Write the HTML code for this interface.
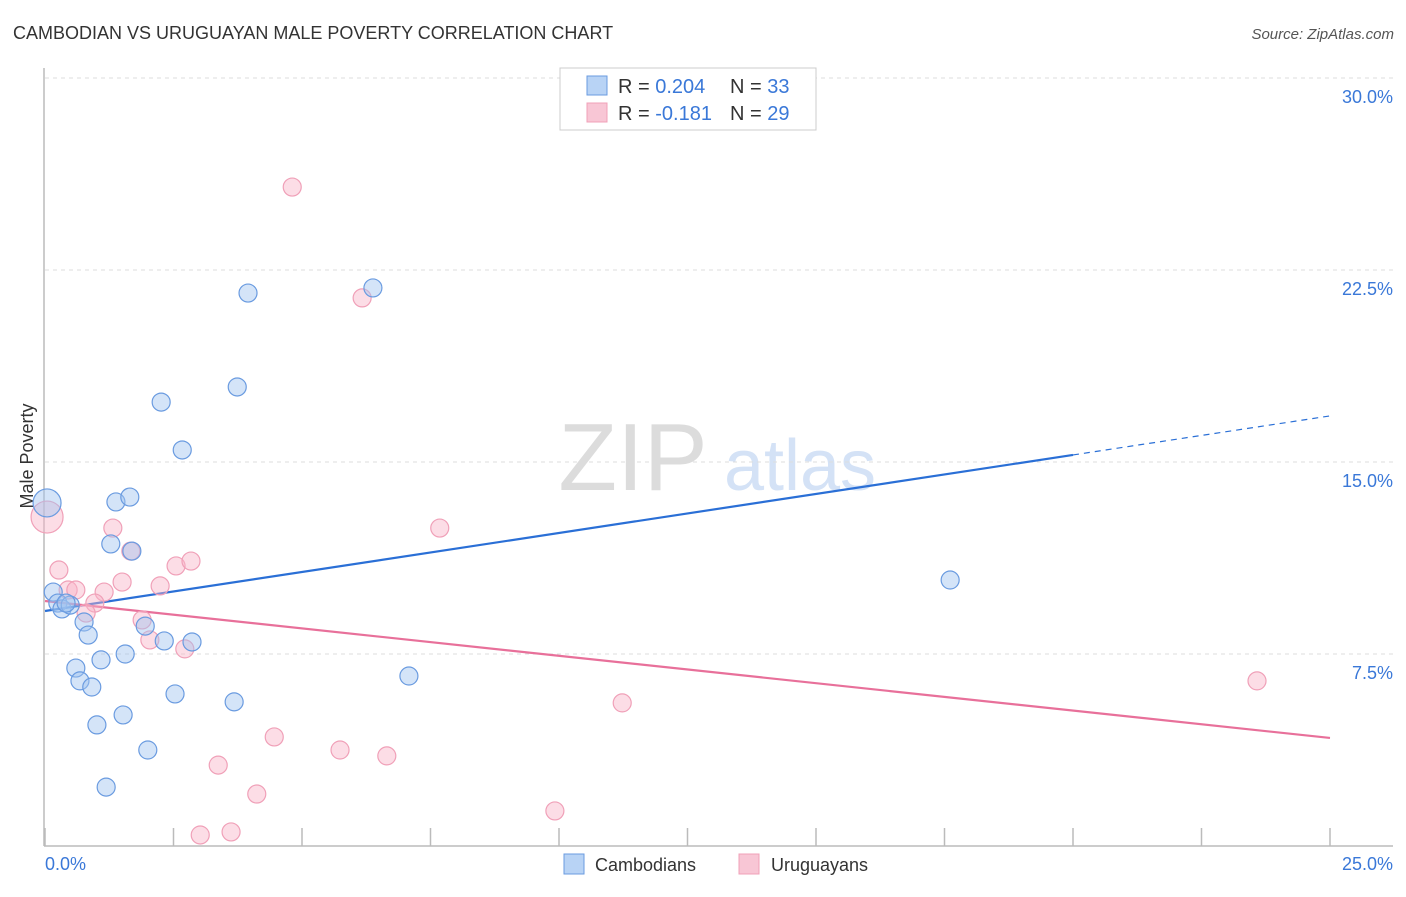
<!DOCTYPE html>
<html><head><meta charset="utf-8"><style>
body{margin:0;background:#fff;font-family:"Liberation Sans",sans-serif;}
svg text{font-family:"Liberation Sans",sans-serif;}
</style></head><body>
<svg id="chart" width="1406" height="892" viewBox="0 0 1406 892" xmlns="http://www.w3.org/2000/svg">
<text x="13" y="39" font-size="18" fill="#333">CAMBODIAN VS URUGUAYAN MALE POVERTY CORRELATION CHART</text>
<text x="1394" y="39" font-size="15" font-style="italic" fill="#555" text-anchor="end">Source: ZipAtlas.com</text>
<g>
<text x="633" y="490" font-size="96" font-family="Liberation Serif,serif" fill="#dcdcdc" text-anchor="middle">ZIP</text>
<text x="800" y="490" font-size="72" fill="#d4e2f6" text-anchor="middle">atlas</text>
</g>
<g id="grid"></g>
<line x1="44" y1="68" x2="44" y2="846" stroke="#bbb" stroke-width="1.5"/>
<line x1="44" y1="846" x2="1393" y2="846" stroke="#bbb" stroke-width="1.5"/>
<g id="ticks"></g>
<text transform="translate(33,456) rotate(-90)" font-size="18" fill="#333" text-anchor="middle">Male Poverty</text>
<text x="45" y="870" font-size="18" fill="#3a78d8">0.0%</text>
<text x="1393" y="870" font-size="18" fill="#3a78d8" text-anchor="end">25.0%</text>
<g id="trends"></g>
<g id="points"></g>
<g>
<rect x="560" y="68" width="256" height="62" fill="#fff" stroke="#ccc"/>
<rect x="587" y="76" width="20" height="19" fill="#b8d3f5" stroke="#6a9be0"/>
<rect x="587" y="103" width="20" height="19" fill="#f8c6d5" stroke="#f0a0b8"/>
<text x="618" y="93" font-size="20" fill="#333">R = <tspan fill="#3a78d8">0.204</tspan><tspan x="730">N = </tspan><tspan fill="#3a78d8">33</tspan></text>
<text x="618" y="120" font-size="20" fill="#333">R = <tspan fill="#3a78d8">-0.181</tspan><tspan x="730">N = </tspan><tspan fill="#3a78d8">29</tspan></text>
</g>
<g>
<rect x="564" y="854" width="20" height="20" fill="#b8d3f5" stroke="#6a9be0"/>
<text x="595" y="871" font-size="18" fill="#333">Cambodians</text>
<rect x="739" y="854" width="20" height="20" fill="#f8c6d5" stroke="#f0a0b8"/>
<text x="771" y="871" font-size="18" fill="#333">Uruguayans</text>
</g>
</svg>
<script>
const yTicks=[7.5,15,22.5,30];
const yTickLabels=["7.5%","15.0%","22.5%","30.0%"];
const xTicks=[0,2.5,5,7.5,10,12.5,15,17.5,20,22.5,25];
const camX=[0.04,1.38,1.65,1.28,1.69,0.16,0.25,0.33,0.49,0.41,0.76,0.84,1.95,2.32,2.86,0.60,0.68,1.09,1.56,0.91,2.53,3.68,1.52,1.01,2.00,1.19,2.26,2.67,3.74,3.95,6.38,7.08,17.61];
const camY=[13.40,13.44,13.63,11.80,11.52,9.92,9.49,9.26,9.41,9.49,8.75,8.24,8.59,8.01,7.97,6.95,6.45,7.27,7.50,6.21,5.94,5.63,5.12,4.73,3.75,2.30,17.34,15.47,17.93,21.60,21.80,6.64,10.39];
const uruX=[0.04,0.27,1.32,1.67,0.45,0.60,1.15,1.50,2.24,2.55,2.84,0.97,0.80,1.89,2.04,2.72,4.81,6.17,7.68,4.46,3.37,5.74,6.65,4.12,3.02,3.62,9.92,11.23,23.58];
const uruY=[12.85,10.78,12.42,11.52,10.00,10.00,9.92,10.31,10.16,10.94,11.13,9.49,9.10,8.83,8.05,7.70,25.74,21.41,12.42,4.26,3.16,3.75,3.52,2.03,0.43,0.55,1.37,5.59,6.45];
const camTrend=[9.18,16.80];
const uruTrend=[9.57,4.22];
const NS="http://www.w3.org/2000/svg";
const X=v=>45+v*51.4;
const Y=v=>846-v*25.6;
function mk(tag,attrs,parent){const e=document.createElementNS(NS,tag);for(const k in attrs)e.setAttribute(k,attrs[k]);document.getElementById(parent).appendChild(e);return e;}
yTicks.forEach((t,i)=>{
 const l=mk('line',{x1:45,x2:1393,y1:Y(t),y2:Y(t),stroke:'#ddd','stroke-dasharray':'4,4'},'grid');
 
 
 const tx=mk('text',{x:1393,y:Y(t)+25,'font-size':18,fill:'#3a78d8','text-anchor':'end'},'grid');
 tx.textContent=yTickLabels[i];
 
 
});
xTicks.forEach(t=>{
 const l=mk('line',{x1:X(t),x2:X(t),y1:828,y2:846,stroke:'#bbb','stroke-width':1.5},'ticks');
 
 
});
function trend(tr,col,split,name){
 const f=x=>tr[0]+(tr[1]-tr[0])*x/25;
 const a=mk('line',{x1:X(0),y1:Y(f(0)),x2:X(split),y2:Y(f(split)),stroke:col,'stroke-width':2.2},'trends');
 
 
 if(split<25){const b=mk('line',{x1:X(split),y1:Y(f(split)),x2:X(25),y2:Y(f(25)),stroke:col,'stroke-width':1.2,'stroke-dasharray':'6,5'},'trends');
 
 }
}
trend(camTrend,'#2a6fd6',20,'cambodian-trend-line');
trend(uruTrend,'#e8709a',25,'uruguayan-trend-line');
function pts(xs,ys,fill,stroke,name){
 xs.forEach((x,i)=>{
  const r=(i===0)?(name==='uruguayan-point'?16:14):9;
  const c=mk('circle',{cx:X(x),cy:Y(ys[i]),r:r,fill:fill,stroke:stroke,'stroke-width':1.2},'points');
  
  
 });
}
pts(uruX,uruY,'rgba(248,180,200,0.45)','#f0a0b8','uruguayan-point');
pts(camX,camY,'rgba(160,196,240,0.45)','#6a9be0','cambodian-point');
</script>
</body></html>
